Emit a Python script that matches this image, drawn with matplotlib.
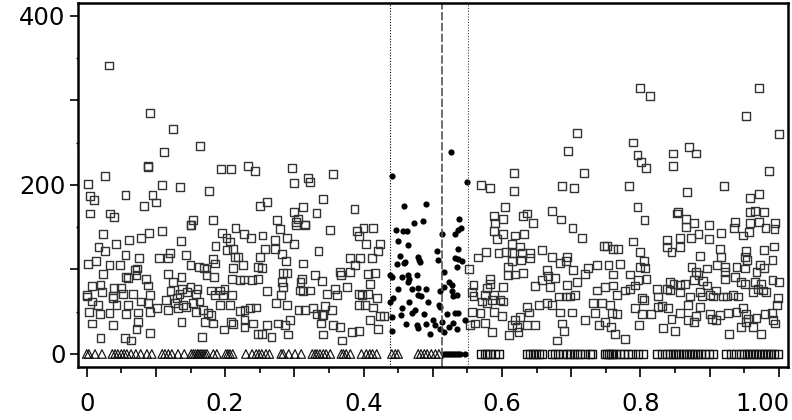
import numpy as np
import matplotlib
matplotlib.use("Agg")
from matplotlib import pyplot as plt
from matplotlib.ticker import MultipleLocator, FuncFormatter
import matplotlib.transforms as mtransforms

# values
# hollow squares outside the band (x, count)
sq_x = [0.032, 0.092, 0.125, 0.112, 0.164, 0.088, 0.088, 0.194, 0.209, 0.233, 0.243, 0.026,
        0.297, 0.320, 0.356, 0.617,
        0.799, 0.814, 0.971, 0.953, 1.000, 0.709, 0.696, 0.790, 0.796, 0.801, 0.808, 0.847, 0.847,
        0.870, 0.881, 0.719, 0.986,
        0.002, 0.005, 0.010, 0.005, 0.034, 0.040, 0.056, 0.083, 0.100, 0.095, 0.109, 0.135, 0.177,
        0.154, 0.150, 0.183, 0.250, 0.260,
        0.300, 0.323, 0.341, 0.312, 0.300, 0.305, 0.303, 0.315, 0.332, 0.387, 0.275,
        0.570, 0.583, 0.618, 0.605, 0.630, 0.636, 0.588, 0.601, 0.590,
        0.687, 0.704, 0.784, 0.867, 0.921, 0.958, 0.971, 0.796, 0.806, 0.672, 0.686, 0.645, 0.855,
        0.853, 0.866, 0.877, 0.958, 0.966, 0.979, 0.958, 0.972, 0.937, 0.995,
        # dense band, left part
        0.024, 0.090, 0.109, 0.151, 0.196, 0.215, 0.227, 0.238, 0.042, 0.061, 0.078, 0.136, 0.202,
        0.207, 0.017, 0.026, 0.186, 0.203, 0.211, 0.214, 0.056, 0.075, 0.105, 0.118, 0.120, 0.143,
        0.182, 0.219, 0.002, 0.013, 0.033, 0.048, 0.070, 0.073, 0.150, 0.162, 0.170, 0.173, 0.185,
        0.211, 0.226, 0.024, 0.057, 0.060, 0.072, 0.118, 0.137, 0.173, 0.184, 0.210, 0.221, 0.227,
        0.239, 0.248, 0.008, 0.020, 0.040, 0.049, 0.086, 0.089, 0.125, 0.138, 0.150, 0.160, 0.180,
        0.192, 0.199, 0.001, 0.000, 0.022, 0.038, 0.038, 0.053, 0.067, 0.091, 0.121, 0.130, 0.134,
        0.145, 0.158, 0.185, 0.197, 0.210, 0.007, 0.016, 0.043, 0.060, 0.079, 0.089, 0.101, 0.114,
        0.127, 0.139, 0.154, 0.163, 0.168, 0.192, 0.207, 0.003, 0.019, 0.033, 0.057, 0.074, 0.091,
        0.118, 0.132, 0.144, 0.158, 0.175, 0.180, 0.221, 0.228, 0.236, 0.245, 0.007, 0.038, 0.074,
        0.072, 0.091, 0.137, 0.171, 0.183, 0.209, 0.211, 0.228, 0.240, 0.228, 0.198, 0.020, 0.055,
        0.064, 0.167, 0.248,
        # dense band, middle-left part
        0.279, 0.315, 0.303, 0.352, 0.390, 0.400, 0.414, 0.393, 0.254, 0.272, 0.289, 0.299, 0.258,
        0.272, 0.335, 0.404, 0.424, 0.421, 0.250, 0.282, 0.288, 0.313, 0.380, 0.395, 0.412, 0.248,
        0.253, 0.284, 0.289, 0.330, 0.340, 0.311, 0.366, 0.368, 0.380, 0.407, 0.417, 0.388, 0.260,
        0.282, 0.284, 0.281, 0.309, 0.308, 0.313, 0.323, 0.347, 0.359, 0.362, 0.376, 0.393, 0.398,
        0.409, 0.419, 0.407, 0.393, 0.402, 0.274, 0.289, 0.306, 0.315, 0.327, 0.332, 0.344, 0.354,
        0.340, 0.342, 0.414, 0.429, 0.424, 0.260, 0.277, 0.287, 0.294, 0.338, 0.356, 0.366, 0.409,
        0.421, 0.253, 0.267, 0.291, 0.342, 0.383, 0.393, 0.369,
        # dense band, middle-right part
        0.552, 0.588, 0.601, 0.593, 0.619, 0.632, 0.614, 0.626, 0.577, 0.566, 0.595, 0.606, 0.614,
        0.629, 0.641, 0.658, 0.627, 0.641, 0.609, 0.614, 0.609, 0.619, 0.631, 0.673, 0.684, 0.694,
        0.692, 0.665, 0.667, 0.677, 0.583, 0.583, 0.559, 0.578, 0.601, 0.648, 0.658, 0.670, 0.694,
        0.703, 0.708, 0.725, 0.720, 0.737, 0.754, 0.752, 0.747, 0.702, 0.716, 0.557, 0.559, 0.576,
        0.588, 0.571, 0.578, 0.586, 0.598, 0.602, 0.557, 0.569, 0.588, 0.600, 0.619, 0.614, 0.622,
        0.626, 0.636, 0.639, 0.648, 0.653, 0.665, 0.672, 0.682, 0.692, 0.684, 0.699, 0.706, 0.687,
        0.690, 0.680, 0.701, 0.720, 0.735, 0.732, 0.745, 0.740, 0.749, 0.737, 0.749, 0.759, 0.554,
        0.561, 0.576, 0.586, 0.610, 0.624, 0.636,
        # dense band, right part
        0.866, 0.884, 0.899, 0.917, 0.935, 0.949, 0.957, 0.981, 0.994, 0.838, 0.857, 0.873, 0.899,
        0.838, 0.845, 0.857, 0.790, 0.800, 0.761, 0.768, 0.886, 0.915, 0.917, 0.953, 0.951, 0.954,
        0.979, 0.993, 0.991, 0.771, 0.805, 0.807, 0.800, 0.874, 0.880, 0.884, 0.911, 0.922, 0.922,
        0.939, 0.951, 0.973, 0.979, 0.968, 0.896, 0.760, 0.785, 0.797, 0.809, 0.843, 0.848, 0.857,
        0.865, 0.891, 0.896, 0.877, 0.922, 0.937, 0.946, 0.951, 0.966, 0.974, 0.991, 1.000, 0.761,
        0.766, 0.778, 0.785, 0.792, 0.802, 0.805, 0.824, 0.826, 0.838, 0.843, 0.857, 0.872, 0.886,
        0.889, 0.901, 0.905, 0.910, 0.920, 0.925, 0.934, 0.941, 0.963, 0.970, 0.977, 0.982, 0.999,
        0.792, 0.802, 0.766, 0.756, 0.816, 0.826, 0.831, 0.840, 0.845, 0.857, 0.869, 0.881, 0.886,
        0.901, 0.903, 0.915, 0.927, 0.939, 0.953, 0.956, 0.953, 0.949, 0.968, 0.980, 0.990, 0.992,
        0.995, 0.997, 0.869, 0.833, 0.850, 0.758, 0.763, 0.778, 0.798, 0.928, 0.946, 0.963, 0.975,
        0.877, 0.910]
sq_y = [341, 285, 266, 239, 246, 221, 222, 219, 219, 222, 216, 210,
        220, 208, 213, 214,
        314, 305, 314, 281, 260, 261, 240, 250, 235, 227, 220, 237, 222,
        245, 237, 214, 216,
        201, 187, 182, 166, 166, 162, 188, 175, 179, 188, 200, 197, 193,
        158, 152, 158, 175, 180,
        202, 203, 183, 174, 168, 160, 156, 153, 167, 171, 158,
        200, 196, 193, 174, 163, 166, 163, 160, 155,
        199, 196, 199, 191, 199, 184, 189, 174, 158, 169, 159, 155, 168,
        166, 160, 155, 168, 169, 168, 155, 156, 156, 155,
        142, 143, 145, 152, 143, 149, 142, 137, 130, 135, 137, 134, 137,
        133, 126, 122, 128, 123, 124, 115, 117, 113, 113, 113, 119, 117,
        112, 115, 106, 110, 105, 105, 99, 101, 105, 103, 102, 101, 107,
        102, 105, 95, 91, 90, 93, 95, 91, 93, 91, 89, 87, 88,
        87, 89, 80, 82, 78, 78, 89, 81, 85, 77, 79, 77, 75,
        75, 77, 70, 68, 73, 69, 66, 71, 71, 70, 74, 66, 71,
        73, 71, 70, 70, 70, 62, 58, 58, 58, 62, 60, 54, 64,
        60, 58, 60, 62, 52, 58, 58, 50, 47, 48, 47, 49, 50,
        52, 54, 56, 50, 48, 46, 51, 52, 54, 55, 36, 34, 38,
        30, 25, 38, 38, 36, 38, 35, 40, 36, 32, 29, 19, 19,
        16, 20, 24,
        148, 152, 152, 147, 145, 149, 149, 139, 140, 135, 137, 130, 124,
        124, 122, 130, 130, 122, 115, 118, 110, 107, 113, 113, 113, 103,
        102, 96, 96, 93, 86, 89, 97, 93, 97, 95, 96, 105, 74,
        85, 79, 70, 85, 75, 74, 75, 71, 77, 70, 79, 71, 70,
        83, 66, 71, 58, 58, 60, 58, 52, 52, 54, 47, 57, 52,
        46, 46, 55, 45, 45, 34, 36, 34, 40, 36, 34, 32, 40,
        30, 24, 20, 23, 23, 26, 27, 16,
        100, 145, 142, 136, 140, 142, 130, 127, 121, 114, 119, 121, 119,
        119, 119, 123, 111, 113, 103, 110, 93, 94, 96, 115, 108, 115,
        110, 99, 92, 90, 89, 83, 82, 78, 79, 80, 87, 79, 82,
        99, 85, 102, 95, 105, 105, 128, 128, 149, 137, 73, 69, 70,
        70, 62, 60, 64, 64, 62, 50, 48, 50, 45, 40, 34, 32,
        44, 56, 49, 34, 58, 60, 58, 68, 68, 49, 68, 70, 36,
        27, 16, 49, 40, 48, 60, 60, 34, 38, 75, 79, 48, 34,
        36, 37, 26, 22, 26, 34,
        150, 142, 152, 143, 149, 140, 144, 149, 148, 135, 137, 137, 136,
        126, 121, 126, 133, 121, 124, 124, 116, 124, 115, 122, 115, 111,
        123, 127, 111, 106, 110, 102, 103, 103, 97, 93, 105, 103, 97,
        103, 101, 105, 102, 97, 101, 94, 94, 87, 89, 85, 83, 82,
        83, 86, 81, 87, 89, 91, 85, 83, 85, 83, 87, 85, 81,
        70, 75, 77, 81, 66, 64, 77, 68, 77, 75, 73, 68, 73,
        68, 70, 68, 75, 68, 68, 70, 68, 73, 77, 75, 73, 66,
        54, 47, 47, 58, 47, 56, 57, 54, 41, 48, 58, 45, 56,
        47, 41, 46, 48, 50, 47, 42, 38, 54, 43, 47, 48, 40,
        36, 58, 40, 31, 27, 32, 24, 18, 34, 24, 32, 32, 24,
        38, 40]

# filled dots inside the band around the cutoff
dot_x = [0.441, 0.527, 0.549, 0.459, 0.491, 0.473, 0.486, 0.538,
         0.447, 0.457, 0.463, 0.450, 0.465, 0.453, 0.479, 0.480, 0.448, 0.459, 0.477, 0.465, 0.466,
         0.465, 0.438, 0.441, 0.450, 0.470, 0.479, 0.490, 0.479, 0.483, 0.493, 0.443, 0.438, 0.466,
         0.455, 0.470, 0.474, 0.454, 0.441, 0.487, 0.462, 0.477, 0.479, 0.491, 0.496, 0.441,
         0.513, 0.532, 0.537, 0.541, 0.537, 0.506, 0.508, 0.532, 0.537, 0.542, 0.535, 0.517, 0.523,
         0.516, 0.511, 0.528, 0.535, 0.530, 0.528, 0.509, 0.511, 0.521, 0.532, 0.537, 0.501, 0.504,
         0.513, 0.530, 0.547, 0.516, 0.511, 0.535, 0.524, 0.460, 0.481, 0.456]
dot_y = [210, 239, 203, 175, 177, 155, 157, 160,
         147, 145, 145, 133, 129, 116, 115, 111, 106, 107, 93, 93, 89,
         85, 93, 91, 77, 77, 78, 77, 70, 68, 62, 66, 62, 62,
         54, 49, 52, 46, 44, 47, 36, 34, 31, 36, 24, 27,
         142, 142, 147, 149, 124, 122, 111, 113, 112, 110, 103, 97, 85,
         79, 75, 81, 70, 69, 75, 58, 55, 47, 49, 48, 40, 34,
         38, 37, 40, 26, 30, 29, 32, 109, 109, 91]

# zero counts
tri_x = [0.000, 0.003, 0.012, 0.022,
         0.037, 0.041, 0.045, 0.050, 0.054, 0.058, 0.064, 0.071, 0.078, 0.087, 0.094,
         0.109, 0.113, 0.118, 0.123, 0.132, 0.141,
         0.151, 0.154, 0.157, 0.160, 0.162, 0.165, 0.168, 0.171, 0.174,
         0.183, 0.188, 0.201, 0.204, 0.207, 0.211,
         0.230, 0.239, 0.245, 0.249, 0.253, 0.259, 0.264,
         0.281, 0.284, 0.292, 0.301, 0.310,
         0.326, 0.330, 0.333, 0.337, 0.342, 0.346, 0.352,
         0.368, 0.371, 0.375, 0.381,
         0.397, 0.404, 0.409, 0.413, 0.419,
         0.441, 0.446, 0.450,
         0.479, 0.483, 0.488, 0.492, 0.498, 0.504, 0.509]
zdot_x = [0.516, 0.519, 0.522, 0.525, 0.528, 0.531, 0.534, 0.536, 0.540, 0.547]
zsq_x = [0.570, 0.575, 0.579, 0.583, 0.590, 0.596,
         0.636, 0.641, 0.645, 0.649, 0.654, 0.658,
         0.672, 0.677, 0.681, 0.688, 0.694, 0.699, 0.704, 0.709, 0.713, 0.720, 0.727, 0.730,
         0.749, 0.752, 0.755, 0.758, 0.761, 0.765, 0.771, 0.777, 0.782, 0.788, 0.797, 0.804,
         0.824, 0.831, 0.839, 0.843, 0.847, 0.851, 0.856, 0.862, 0.866, 0.870, 0.875, 0.879,
         0.883, 0.888, 0.893, 0.899, 0.905,
         0.924, 0.931, 0.938, 0.946, 0.950, 0.954, 0.959, 0.963, 0.967, 0.972, 0.976, 0.980,
         0.985, 0.989, 0.993, 0.999]

cutoff = 0.5134
band = (0.4387, 0.5515)

plt.rcParams['font.family'] = ['DejaVu Sans']

fig = plt.figure(figsize=(7.92, 4.2), dpi=100)
ax = fig.add_axes([0.0985, 0.126, 0.8965, 0.867])

ax.scatter(sq_x, sq_y, s=32, marker='s', facecolors='none', edgecolors='#333333', linewidths=1.0)
ax.scatter(dot_x, dot_y, s=20, marker='o', color='black', linewidths=0)
ax.scatter(tri_x, np.zeros(len(tri_x)), s=38, marker='^', facecolors='none', edgecolors='#111111', linewidths=0.85)
ax.scatter(zdot_x, np.zeros(len(zdot_x)), s=20, marker='o', color='black', linewidths=0)
ax.scatter(zsq_x, np.zeros(len(zsq_x)), s=32, marker='s', facecolors='none', edgecolors='#111111', linewidths=1.0)

ax.axvline(band[0], color='black', linestyle=(0, (1, 1.5)), lw=0.8)
ax.axvline(band[1], color='#444444', linestyle=(0, (1, 1.5)), lw=0.8)
ax.axvline(cutoff, color='#555555', linestyle=(0, (5, 1.5)), lw=1.2)

ax.set_xlim(-0.0126, 1.0135)
ax.set_ylim(-15.5, 415)

ax.xaxis.set_major_locator(MultipleLocator(0.1))
ax.xaxis.set_minor_locator(MultipleLocator(0.05))
ax.yaxis.set_major_locator(MultipleLocator(100))
ax.yaxis.set_minor_locator(MultipleLocator(50))


def xfmt(v, pos):
    k = int(round(v * 10))
    if k % 2:
        return ""
    if k == 0:
        return "0"
    if k == 10:
        return "1.00"
    return "%.1f" % (k / 10)


def yfmt(v, pos):
    k = int(round(v))
    return str(k) if k % 200 == 0 else ""


ax.xaxis.set_major_formatter(FuncFormatter(xfmt))
ax.yaxis.set_major_formatter(FuncFormatter(yfmt))

ax.tick_params(axis='x', which='major', length=7, width=1.2, pad=11, labelsize=17.5)
ax.tick_params(axis='x', which='minor', length=4, width=1.2)
ax.tick_params(axis='y', which='major', length=6, width=1.2, pad=3, labelsize=17.5)
ax.tick_params(axis='y', which='minor', length=1.5, width=1.0)

for sp in ax.spines.values():
    sp.set_linewidth(1.8)

# the last x label sits against the right edge in the reference
fig.canvas.draw()
for lab in ax.get_xticklabels():
    if lab.get_text() == "1.00":
        lab.set_horizontalalignment('right')
        lab.set_transform(lab.get_transform() + mtransforms.ScaledTranslation(0.11, 0, fig.dpi_scale_trans))

fig.savefig("out.png", dpi=100)
